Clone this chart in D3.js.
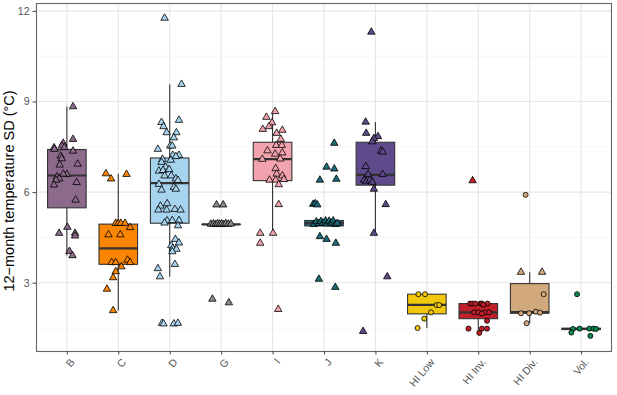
<!DOCTYPE html>
<html>
<head>
<meta charset="utf-8">
<script src="https://cdn.jsdelivr.net/npm/d3@7"></script>
<style>
  body { margin: 0; background: #fff; }
  text { font-family: Arial, 'Liberation Sans', sans-serif; }
</style>
</head>
<body>
<svg id="chart" width="617" height="395"></svg>
<script>
// Categories and fill colours
const categories = ['B', 'C', 'D', 'G', 'I', 'J', 'K', 'HI Low', 'HI Inv.', 'HI Div.', 'Vol.'];
const fills = ['#8c6a8c', '#fb8500', '#a6d3ee', '#8a8a8a', '#f2a3ae', '#1b6a78', '#5f4a8b', '#f2c80c', '#c0202a', '#d2a97c', '#0b8a50'];

// Box statistics: [lowWhisker, q1, median, q3, highWhisker]
const boxB = [3.9, 5.48, 6.55, 7.41, 8.83];
const boxC = [2.08, 3.61, 4.14, 4.94, 6.61];
const boxD = [3.2, 4.97, 6.3, 7.13, 9.57];
const boxG = [4.93, 4.93, 4.93, 4.93, 4.93];
const boxI = [4.64, 6.38, 7.09, 7.65, 8.67];
const boxJ = [4.88, 4.88, 4.97, 5.06, 5.06];
const boxK = [4.64, 6.23, 6.57, 7.65, 8.32];
const boxHILow = [1.5, 1.97, 2.27, 2.62, 2.62];
const boxHIInv = [1.34, 1.81, 2.02, 2.31, 2.31];
const boxHIDiv = [1.66, 1.99, 2.03, 2.97, 3.35];
const boxVol = [1.45, 1.45, 1.47, 1.49, 1.49];

// Observations: [jitter (in category steps), value, shape] with t = triangle, c = circle
const ptsB = [[0.12, 8.83, 't'], [0.12, 7.75, 't'], [-0.07, 7.62, 't'], [-0.1, 7.53, 't'], [-0.05, 7.48, 't'],
  [-0.25, 7.47, 't'], [-0.24, 7.42, 't'], [0.12, 7.36, 't'], [-0.12, 7.2, 't'], [-0.1, 7.11, 't'],
  [0.21, 6.93, 't'], [-0.14, 6.9, 't'], [0.0, 6.59, 't'], [-0.07, 6.6, 't'], [-0.19, 6.51, 't'],
  [-0.15, 6.44, 't'], [-0.21, 6.4, 't'], [0.19, 6.32, 't'], [-0.25, 6.24, 't'], [0.17, 5.74, 't'],
  [0.01, 4.84, 't'], [-0.15, 4.64, 't'], [0.16, 4.64, 't'], [0.16, 4.55, 't'], [0.05, 4.04, 't'], [0.11, 3.9, 't']];
const ptsC = [[-0.24, 6.61, 't'], [0.16, 6.59, 't'], [-0.14, 6.44, 't'], [-0.05, 4.97, 't'], [0.0, 4.97, 't'],
  [0.05, 4.97, 't'], [0.13, 4.97, 't'], [0.23, 4.83, 't'], [-0.19, 4.59, 't'], [0.04, 4.59, 't'],
  [-0.13, 3.67, 't'], [-0.05, 3.67, 't'], [0.18, 3.75, 't'], [0.23, 3.67, 't'], [0.06, 3.53, 't'],
  [-0.05, 3.37, 't'], [-0.1, 3.17, 't'], [-0.22, 2.79, 't'], [-0.1, 2.08, 't']];
const ptsD = [[-0.1, 11.76, 't'], [0.23, 9.57, 't'], [0.18, 8.38, 't'], [-0.16, 8.31, 't'], [-0.12, 8.17, 't'],
  [-0.06, 7.97, 't'], [0.13, 7.97, 't'], [0.08, 7.8, 't'], [0.01, 7.53, 't'], [0.05, 7.53, 't'],
  [-0.23, 7.42, 't'], [0.06, 7.22, 't'], [0.18, 7.22, 't'], [0.12, 7.18, 't'], [-0.14, 7.09, 't'],
  [0.02, 7.06, 't'], [-0.16, 6.99, 't'], [-0.08, 6.83, 't'], [-0.21, 6.7, 't'], [-0.13, 6.72, 't'],
  [-0.01, 6.75, 't'], [-0.1, 6.54, 't'], [0.03, 6.54, 't'], [0.12, 6.44, 't'], [0.16, 6.39, 't'],
  [-0.21, 6.26, 't'], [0.08, 6.16, 't'], [0.12, 6.1, 't'], [-0.16, 6.07, 't'], [-0.05, 5.62, 't'],
  [-0.18, 5.54, 't'], [-0.22, 5.41, 't'], [-0.06, 5.41, 't'], [0.1, 5.43, 't'], [0.21, 5.41, 't'],
  [-0.05, 5.05, 't'], [0.05, 5.06, 't'], [0.18, 5.06, 't'], [-0.1, 4.98, 't'], [0.16, 4.89, 't'],
  [0.11, 4.44, 't'], [0.18, 4.32, 't'], [0.03, 4.23, 't'], [0.06, 4.14, 't'], [0.13, 4.11, 't'],
  [0.05, 4.03, 't'], [0.1, 3.61, 't'], [-0.23, 3.47, 't'], [-0.19, 3.2, 't'], [-0.15, 1.66, 't'],
  [-0.12, 1.64, 't'], [0.08, 1.64, 't'], [0.16, 1.66, 't']];
const ptsG = [[-0.09, 5.58, 't'], [0.04, 5.58, 't'], [-0.2, 4.94, 't'], [-0.15, 4.95, 't'], [-0.11, 4.93, 't'],
  [-0.07, 4.96, 't'], [-0.03, 4.94, 't'], [0.01, 4.95, 't'], [0.05, 4.93, 't'], [0.09, 4.96, 't'],
  [0.14, 4.94, 't'], [0.19, 4.95, 't'], [-0.17, 2.46, 't'], [0.15, 2.34, 't']];
const ptsI = [[0.05, 8.67, 't'], [-0.12, 8.48, 't'], [-0.01, 8.3, 't'], [-0.07, 8.17, 't'], [-0.19, 8.08, 't'],
  [0.19, 8.05, 't'], [0.08, 7.95, 't'], [0.16, 7.75, 't'], [0.07, 7.55, 't'], [0.18, 7.55, 't'],
  [-0.1, 7.37, 't'], [0.19, 7.3, 't'], [0.05, 7.26, 't'], [-0.2, 7.09, 't'], [0.15, 7.1, 't'],
  [0.06, 6.78, 't'], [0.08, 6.6, 't'], [0.19, 6.54, 't'], [-0.06, 6.4, 't'], [0.06, 6.4, 't'],
  [0.22, 6.42, 't'], [0.12, 6.25, 't'], [0.12, 5.59, 't'], [-0.24, 4.64, 't'], [0.01, 4.64, 't'],
  [-0.24, 4.31, 't'], [0.11, 2.12, 't']];
const ptsJ = [[0.2, 7.62, 't'], [0.05, 6.83, 't'], [0.2, 6.77, 't'], [-0.08, 6.4, 't'], [0.24, 6.43, 't'],
  [-0.21, 5.6, 't'], [-0.17, 5.62, 't'], [-0.13, 5.58, 't'], [-0.2, 4.93, 't'], [-0.15, 5.02, 't'],
  [-0.1, 4.96, 't'], [-0.06, 5.03, 't'], [-0.02, 4.98, 't'], [0.03, 5.05, 't'], [0.06, 4.95, 't'],
  [0.1, 5.04, 't'], [0.14, 4.98, 't'], [0.18, 5.05, 't'], [0.22, 4.93, 't'], [0.26, 4.97, 't'],
  [-0.08, 4.53, 't'], [0.05, 4.44, 't'], [0.23, 4.31, 't'], [-0.1, 3.12, 't'], [0.22, 2.85, 't']];
const ptsK = [[-0.08, 11.3, 't'], [-0.19, 8.32, 't'], [-0.18, 7.95, 't'], [0.05, 7.84, 't'], [-0.03, 7.78, 't'],
  [-0.06, 7.67, 't'], [0.11, 7.37, 't'], [0.14, 7.33, 't'], [-0.19, 6.85, 't'], [0.14, 6.59, 't'],
  [-0.14, 6.59, 't'], [-0.22, 6.4, 't'], [-0.18, 6.35, 't'], [-0.11, 6.4, 't'], [-0.06, 6.33, 't'],
  [-0.03, 6.1, 't'], [0.2, 5.59, 't'], [-0.03, 4.64, 't'], [0.23, 3.2, 't'], [-0.24, 1.39, 't']];
const ptsHILow = [[-0.165, 2.62, 'c'], [-0.035, 2.62, 'c'], [0.19, 2.26, 'c'], [0.24, 2.26, 'c'],
  [0.08, 2.02, 'c'], [-0.05, 1.81, 'c'], [-0.18, 1.5, 'c']];
const ptsHIInv = [[-0.11, 6.38, 't'], [-0.16, 2.31, 'c'], [-0.11, 2.31, 'c'], [-0.06, 2.31, 'c'], [0.04, 2.31, 'c'],
  [0.07, 2.31, 'c'], [0.18, 2.31, 'c'], [0.1, 2.27, 'c'], [-0.08, 2.02, 'c'], [0.0, 2.02, 'c'],
  [0.13, 2.02, 'c'], [0.21, 2.02, 'c'], [0.07, 1.98, 'c'], [0.17, 1.74, 'c'], [-0.19, 1.48, 'c'],
  [0.07, 1.48, 'c'], [0.17, 1.48, 'c'], [0.02, 1.34, 'c']];
const ptsHIDiv = [[-0.08, 5.91, 'c'], [-0.17, 3.35, 't'], [0.24, 3.35, 't'], [0.27, 2.62, 'c'],
  [-0.17, 1.99, 'c'], [-0.01, 1.99, 'c'], [0.12, 2.04, 'c'], [0.2, 2.01, 'c'], [-0.06, 1.66, 'c']];
const ptsVol = [[-0.08, 2.62, 'c'], [-0.16, 1.47, 'c'], [-0.03, 1.48, 'c'], [0.16, 1.48, 'c'],
  [0.24, 1.48, 'c'], [0.29, 1.47, 'c'], [-0.19, 1.35, 'c'], [0.18, 1.24, 'c']];

const boxes = [boxB, boxC, boxD, boxG, boxI, boxJ, boxK, boxHILow, boxHIInv, boxHIDiv, boxVol];
const points = [ptsB, ptsC, ptsD, ptsG, ptsI, ptsJ, ptsK, ptsHILow, ptsHIInv, ptsHIDiv, ptsVol];

const yTicks = [3, 6, 9, 12];
const yMinor = [1.5, 4.5, 7.5, 10.5];

const svg = d3.select('#chart');
const panel = { left: 36, top: 3, right: 612, bottom: 351 };

const x = d3.scalePoint().domain(categories).range([panel.left, panel.right]).padding(0.6);
const y = d3.scaleLinear().domain([0.74, 12.26]).range([panel.bottom, panel.top]);
const step = x.step();
const boxWidth = step * 0.75;

// Grid lines
const grid = svg.append('g').attr('class', 'grid');
grid.selectAll('line.minor')
  .data(yMinor)
  .join('line')
  .attr('class', 'minor')
  .attr('x1', panel.left).attr('x2', panel.right)
  .attr('y1', (d) => y(d)).attr('y2', (d) => y(d))
  .attr('stroke', '#efefef').attr('stroke-width', 0.6);
grid.selectAll('line.major-y')
  .data(yTicks)
  .join('line')
  .attr('class', 'major-y')
  .attr('x1', panel.left).attr('x2', panel.right)
  .attr('y1', (d) => y(d)).attr('y2', (d) => y(d))
  .attr('stroke', '#e6e6e6').attr('stroke-width', 1.1);
grid.selectAll('line.major-x')
  .data(categories)
  .join('line')
  .attr('class', 'major-x')
  .attr('x1', (d) => x(d)).attr('x2', (d) => x(d))
  .attr('y1', panel.top).attr('y2', panel.bottom)
  .attr('stroke', '#e6e6e6').attr('stroke-width', 1.1);

// Boxplots
const boxG_ = svg.append('g').attr('class', 'boxes')
  .selectAll('g.box')
  .data(categories)
  .join('g')
  .attr('class', 'box')
  .attr('transform', (d) => `translate(${x(d)}, 0)`);

boxG_.append('line')
  .attr('y1', (d, i) => y(boxes[i][0]))
  .attr('y2', (d, i) => y(boxes[i][1]))
  .attr('stroke', '#333').attr('stroke-width', 1.1);
boxG_.append('line')
  .attr('y1', (d, i) => y(boxes[i][3]))
  .attr('y2', (d, i) => y(boxes[i][4]))
  .attr('stroke', '#333').attr('stroke-width', 1.1);
boxG_.append('rect')
  .attr('x', -boxWidth / 2)
  .attr('width', boxWidth)
  .attr('y', (d, i) => y(boxes[i][3]))
  .attr('height', (d, i) => Math.max(0.01, y(boxes[i][1]) - y(boxes[i][3])))
  .attr('fill', (d, i) => fills[i])
  .attr('stroke', '#333').attr('stroke-width', 1.1);
boxG_.append('line')
  .attr('x1', -boxWidth / 2).attr('x2', boxWidth / 2)
  .attr('y1', (d, i) => y(boxes[i][2]))
  .attr('y2', (d, i) => y(boxes[i][2]))
  .attr('stroke', '#333').attr('stroke-width', 2.2);

// Jittered observations
const tri = d3.symbol().type(d3.symbolTriangle).size(24);
const dot = d3.symbol().type(d3.symbolCircle).size(20);
const pts = svg.append('g').attr('class', 'points');
categories.forEach((cat, i) => {
  pts.selectAll(null)
    .data(points[i])
    .join('path')
    .attr('d', (d) => (d[2] === 't' ? tri() : dot()))
    .attr('transform', (d) => `translate(${x(cat) + d[0] * step}, ${y(d[1])})`)
    .attr('fill', fills[i])
    .attr('stroke', '#000')
    .attr('stroke-width', 0.8);
});

// Panel border
svg.append('rect')
  .attr('x', panel.left + 0.5).attr('y', panel.top + 0.5)
  .attr('width', panel.right - panel.left - 1)
  .attr('height', panel.bottom - panel.top)
  .attr('fill', 'none')
  .attr('stroke', '#666').attr('stroke-width', 1.1);

// Y axis
const yAxis = svg.append('g')
  .attr('transform', `translate(${panel.left}, 0)`)
  .call(d3.axisLeft(y).tickValues(yTicks).tickSize(3.5).tickPadding(3));
yAxis.select('.domain').remove();
yAxis.selectAll('.tick line').attr('stroke', '#444');
yAxis.selectAll('.tick text').attr('fill', '#555').attr('font-size', 10.5)
  .style('font-family', 'Arial, "Liberation Sans", sans-serif');

// X axis: labels rotated, right end near each tick
const xAxis = svg.append('g')
  .attr('transform', `translate(0, ${panel.bottom})`)
  .call(d3.axisBottom(x).tickSize(3.5).tickPadding(4));
xAxis.select('.domain').remove();
xAxis.selectAll('.tick line').attr('stroke', '#444');
xAxis.selectAll('.tick text')
  .attr('fill', '#555')
  .attr('font-size', 10.5)
  .style('font-family', 'Arial, "Liberation Sans", sans-serif')
  .attr('text-anchor', 'end')
  .attr('x', 0)
  .attr('y', 0)
  .attr('dy', '0.35em')
  .attr('transform', 'translate(5, 9) rotate(-50)');

// Y axis title
svg.append('text')
  .attr('transform', 'translate(9, 191) rotate(-90)')
  .attr('text-anchor', 'middle')
  .attr('dy', '0.35em')
  .attr('font-size', 14.5)
  .attr('fill', '#000')
  .text('12−month temperature SD (°C)');
</script>
</body>
</html>
